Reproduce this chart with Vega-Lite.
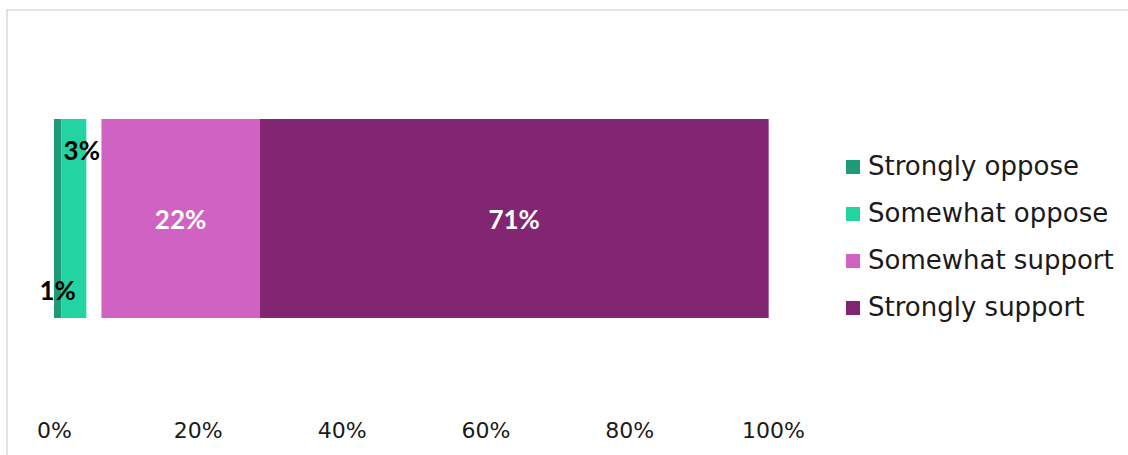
{
  "$schema": "https://vega.github.io/schema/vega-lite/v6.json",
  "autosize": {"type": "none"},
  "padding": {"left": 7, "top": 10, "right": 0, "bottom": 0},
  "width": 1130,
  "height": 455,
  "background": "white",
  "config": {
    "view": {"stroke": "#d9d9d9", "strokeWidth": 1.5},
    "font": "DejaVu Sans"
  },
  "data": {
    "values": [
      {"response": "Strongly oppose", "pct": 1.0, "label": "1%", "o": 1},
      {"response": "Somewhat oppose", "pct": 3.5, "label": "3%", "o": 2},
      {"response": "Don't know", "pct": 2.1, "label": "", "o": 3},
      {"response": "Somewhat support", "pct": 22.0, "label": "22%", "o": 4},
      {"response": "Strongly support", "pct": 70.8, "label": "71%", "o": 5}
    ]
  },
  "transform": [
    {"stack": "pct", "groupby": [], "sort": [{"field": "o", "order": "ascending"}], "as": ["x0", "x1"]},
    {"calculate": "(datum.x0 + datum.x1) / 2", "as": "xm"}
  ],
  "encoding": {
    "y": {
      "datum": "Q1",
      "type": "nominal",
      "scale": {"range": [109, 308], "paddingInner": 0, "paddingOuter": 0},
      "axis": null
    }
  },
  "layer": [
    {
      "transform": [{"filter": "datum.o != 3"}],
      "mark": {"type": "bar"},
      "encoding": {
        "x": {
          "field": "x0",
          "type": "quantitative",
          "scale": {"domain": [-6.537, 150.63], "nice": false, "zero": false},
          "axis": {
            "values": [0, 20, 40, 60, 80, 100],
            "labelExpr": "datum.value + '%'",
            "grid": false,
            "domain": false,
            "ticks": false,
            "title": null,
            "offset": -45,
            "labelPadding": 0,
            "labelBaseline": "top",
            "labelFont": "DejaVu Sans",
            "labelFontSize": 22,
            "labelColor": "#1a1a1a",
            "labelOverlap": false,
            "labelFlush": false
          }
        },
        "x2": {"field": "x1"},
        "color": {
          "field": "response",
          "type": "nominal",
          "scale": {
            "domain": ["Strongly oppose", "Somewhat oppose", "Somewhat support", "Strongly support"],
            "range": ["#1d9a78", "#23d3a1", "#d062c4", "#822674"]
          },
          "legend": {
            "title": null,
            "orient": "none",
            "legendX": 833,
            "legendY": 144,
            "padding": 0,
            "symbolType": "square",
            "symbolSize": 196,
            "symbolStrokeWidth": 0,
            "labelFont": "DejaVu Sans",
            "labelFontSize": 26,
            "labelColor": "#1a1a1a",
            "labelOffset": 2,
            "rowPadding": 21,
            "labelLimit": 400
          }
        }
      }
    },
    {
      "transform": [{"filter": "datum.o >= 4"}],
      "mark": {"type": "text", "font": "Lato", "fontWeight": "bold", "fontSize": 26, "color": "white", "dy": 2},
      "encoding": {
        "x": {"field": "xm", "type": "quantitative"},
        "text": {"field": "label"}
      }
    },
    {
      "transform": [{"filter": "datum.o == 2"}],
      "mark": {"type": "text", "font": "Lato", "fontWeight": "bold", "fontSize": 26, "color": "#000000", "dx": 8, "dy": -67},
      "encoding": {
        "x": {"field": "xm", "type": "quantitative"},
        "text": {"field": "label"}
      }
    },
    {
      "transform": [{"filter": "datum.o == 1"}],
      "mark": {"type": "text", "font": "Lato", "fontWeight": "bold", "fontSize": 26, "color": "#000000", "dx": 0, "dy": 73},
      "encoding": {
        "x": {"field": "xm", "type": "quantitative"},
        "text": {"field": "label"}
      }
    }
  ]
}
